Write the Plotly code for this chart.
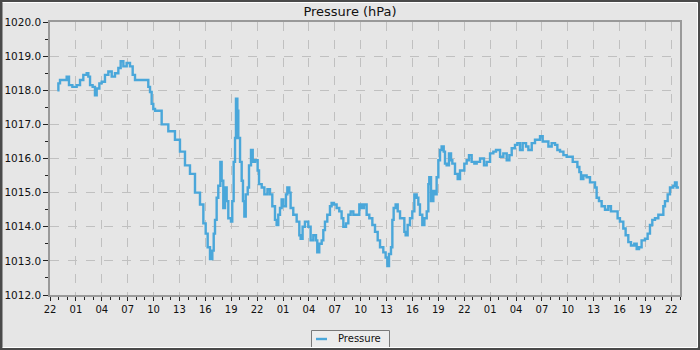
import pandas as pd
import plotly.graph_objects as go

start = pd.Timestamp("2024-03-01 22:00")
span_hours = 73

hours = [0.85, 0.97, 1.16, 1.55, 1.93, 2.2, 2.59, 3.09, 3.48, 3.86, 4.25, 4.44, 4.64, 4.94, 5.21, 5.41, 5.72, 5.99,
         6.37, 6.76, 7.15, 7.53, 7.92, 8.19, 8.5, 8.88, 9.27, 9.58, 9.85, 10.43, 11.01, 11.39, 11.59, 11.78, 11.97,
         12.17, 12.94, 13.71, 14.48, 15.06, 15.64, 16.22, 16.8, 17.38, 17.77, 18.04, 18.27, 18.54, 18.81, 18.97,
         19.12, 19.31, 19.5, 19.74, 19.89, 20.08, 20.28, 20.47, 20.66, 20.97, 21.12, 21.28, 21.44, 21.55, 21.71,
         21.82, 22.02, 22.21, 22.36, 22.52, 22.68, 22.91, 23.06, 23.29, 23.49, 23.76, 24.06, 24.22, 24.53, 24.84,
         25.2, 25.49, 25.76, 26.07, 26.26, 26.45, 26.65, 26.84, 27.03, 27.34, 27.5, 27.73, 27.88, 28.19, 28.58,
         28.89, 29.04, 29.27, 29.54, 29.93, 30.2, 30.51, 30.82, 30.97, 31.2, 31.48, 31.67, 31.86, 32.13, 32.44,
         32.63, 32.9, 33.21, 33.52, 33.79, 33.99, 34.3, 34.57, 34.84, 35.15, 35.45, 35.84, 36.11, 36.38, 36.69,
         37.0, 37.35, 37.66, 37.97, 38.24, 38.62, 38.89, 39.09, 39.28, 39.51, 39.67, 39.82, 40.05, 40.29, 40.56,
         40.83, 41.06, 41.21, 41.44, 41.71, 41.98, 42.22, 42.49, 42.68, 42.87, 43.14, 43.38, 43.65, 43.84, 43.95,
         44.15, 44.42, 44.61, 44.8, 45.0, 45.19, 45.38, 45.62, 45.77, 45.96, 46.23, 46.47, 46.62, 46.93, 47.24,
         47.51, 47.78, 48.01, 48.28, 48.55, 48.86, 49.17, 49.44, 49.83, 50.29, 50.6, 50.99, 51.37, 51.68, 52.15,
         52.53, 52.92, 53.23, 53.5, 53.88, 54.15, 54.46, 54.77, 55.16, 55.43, 55.82, 56.2, 56.59, 56.78, 57.09,
         57.48, 57.75, 58.13, 58.52, 58.79, 59.1, 59.49, 59.87, 60.26, 60.57, 60.84, 61.11, 61.34, 61.53, 61.8,
         62.18, 62.57, 62.95, 63.15, 63.34, 63.61, 63.92, 64.31, 64.69, 65.0, 65.46, 65.77, 66.04, 66.43, 66.7,
         67.01, 67.32, 67.7, 67.98, 68.25, 68.55, 68.94, 69.25, 69.52, 69.79, 70.1, 70.49, 70.8, 71.07, 71.26,
         71.57, 71.84, 72.22, 72.42, 72.61, 72.88]

pressure = [1018.0, 1018.2, 1018.3, 1018.3, 1018.4, 1018.15, 1018.1, 1018.15, 1018.3, 1018.45, 1018.5, 1018.4,
            1018.15, 1018.1, 1017.85, 1018.05, 1018.2, 1018.25, 1018.45, 1018.55, 1018.4, 1018.5, 1018.65, 1018.85,
            1018.7, 1018.8, 1018.7, 1018.45, 1018.3, 1018.3, 1018.3, 1018.1, 1017.95, 1017.6, 1017.45,
            1017.4, 1017.0, 1016.8, 1016.55, 1016.2, 1015.8, 1015.55, 1015.0, 1014.65, 1014.1, 1013.8, 1013.4,
            1013.05, 1013.3, 1013.8, 1014.2, 1014.85, 1015.2, 1015.9, 1015.35, 1014.55, 1015.15, 1014.75, 1014.25,
            1014.15, 1014.75, 1015.9, 1016.6, 1017.75, 1017.4, 1016.6, 1015.9, 1015.35, 1014.75, 1014.3, 1014.95,
            1015.15, 1015.8, 1016.25, 1015.9, 1015.95, 1015.65, 1015.25, 1015.15, 1014.95,
            1015.1, 1014.95, 1014.6, 1014.2, 1014.05, 1014.35, 1014.55, 1014.8, 1014.6, 1014.95, 1015.15, 1015.0,
            1014.55, 1014.35, 1014.15, 1013.75, 1013.65, 1014.0, 1014.15, 1014.0, 1013.6, 1013.75, 1013.6, 1013.25,
            1013.5, 1013.6, 1013.9, 1014.15, 1014.35, 1014.6, 1014.7, 1014.65, 1014.55, 1014.45, 1014.25, 1014.0,
            1014.1, 1014.35, 1014.45, 1014.35, 1014.35, 1014.65, 1014.55, 1014.65, 1014.35,
            1014.25, 1014.05, 1013.85, 1013.6, 1013.4, 1013.25, 1013.1, 1012.85, 1013.2, 1013.4, 1014.2, 1014.55,
            1014.65, 1014.45, 1014.25, 1014.25, 1013.85, 1013.75, 1014.05, 1014.25, 1014.45, 1014.95, 1014.85,
            1014.65, 1014.35, 1014.05, 1014.25, 1014.45, 1015.25, 1015.45, 1014.75, 1015.05, 1014.95, 1015.45,
            1015.95, 1016.25, 1016.35, 1016.2, 1015.85, 1015.8, 1016.15, 1015.95, 1015.85, 1015.55, 1015.4,
            1015.65, 1015.65, 1015.85, 1015.95, 1016.1, 1015.9, 1015.85, 1015.9, 1016.0, 1015.8, 1015.9, 1016.15,
            1016.2, 1016.25, 1016.05, 1016.15, 1015.95, 1016.1, 1016.3, 1016.4, 1016.45, 1016.25, 1016.45, 1016.35,
            1016.25, 1016.45, 1016.55, 1016.55, 1016.65, 1016.5, 1016.5, 1016.35, 1016.45, 1016.4, 1016.25, 1016.2,
            1016.1, 1016.05, 1016.05, 1015.9, 1015.9, 1015.75, 1015.6, 1015.4, 1015.5, 1015.45, 1015.3, 1015.3,
            1015.15, 1014.85, 1014.75, 1014.6, 1014.5, 1014.6, 1014.45, 1014.45, 1014.25, 1014.15, 1013.95, 1013.75,
            1013.55, 1013.45, 1013.5, 1013.35, 1013.4, 1013.6, 1013.65, 1013.8, 1014.05, 1014.2, 1014.25, 1014.35,
            1014.35, 1014.6, 1014.75, 1014.95, 1015.15, 1015.2, 1015.3, 1015.15, 1015.15]

y_range = [1012.0, 1020.0]
title_text = "Pressure (hPa)"
series_name = "Pressure"

times = [start + pd.Timedelta(hours=h) for h in hours]

BG = "#e6e6e6"
GRID = "#c0c0c0"
AXIS = "#999999"
LINE = "#4aa7da"
FONT = "DejaVu Sans"

W, H = 700, 350
ML, MR, MT, MB = 50, 20, 22, 55
PW, PH = W - ML - MR, H - MT - MB


def px(x):
    return (x - ML) / PW


def py(y):
    return (H - MB - y) / PH


fig = go.Figure()
fig.add_trace(go.Scatter(x=times, y=pressure, mode="lines", name=series_name,
                         line=dict(color=LINE, width=2.4, shape="hv"), showlegend=False))

fig.update_layout(
    width=W, height=H,
    margin=dict(l=ML, r=MR, t=MT, b=MB, pad=0, autoexpand=False),
    paper_bgcolor=BG, plot_bgcolor=BG,
    font=dict(family=FONT, size=10, color="#111111"),
    title=dict(text=title_text, x=0.5, xref="container", xanchor="center",
               y=1 - 11 / H, yref="container", yanchor="middle",
               font=dict(family=FONT, size=13, color="#111111")),
    showlegend=False,
)

fig.update_xaxes(
    type="date", automargin=False,
    range=[start, start + pd.Timedelta(hours=span_hours)],
    tick0=start, dtick=3 * 3600 * 1000, tickformat="%H",
    ticks="outside", ticklen=4, tickcolor="#222222", tickwidth=1,
    minor=dict(dtick=3600 * 1000, tick0=start, ticks="outside", ticklen=3, tickcolor="#222222", showgrid=False),
    showgrid=True, gridcolor=GRID, griddash="dash", gridwidth=1,
    showline=True, linecolor=AXIS, linewidth=1.5, mirror=True,
    zeroline=False, tickfont=dict(family=FONT, size=10, color="#111111"),
)
fig.update_yaxes(
    automargin=False,
    range=y_range, dtick=1, tick0=1012, tickformat=".1f",
    ticks="outside", ticklen=5, tickcolor="#222222", tickwidth=1,
    minor=dict(dtick=0.5, ticks="outside", ticklen=3, tickcolor="#222222", showgrid=False),
    showgrid=True, gridcolor=GRID, griddash="dash", gridwidth=1,
    showline=True, linecolor=AXIS, linewidth=1.5, mirror=True,
    zeroline=False, tickfont=dict(family=FONT, size=10.5, color="#111111"),
)

# legend box (drawn by hand to match the compact original legend)
fig.add_shape(type="rect", xref="paper", yref="paper",
              x0=px(311.5), x1=px(389.5), y0=py(347.5), y1=py(330.5),
              line=dict(color="#7a7a7a", width=1), fillcolor="#ececec", layer="above")
fig.add_shape(type="line", xref="paper", yref="paper",
              x0=px(316), x1=px(327), y0=py(339), y1=py(339),
              line=dict(color=LINE, width=2.4), layer="above")
fig.add_annotation(text=series_name, xref="paper", yref="paper",
                   x=px(336), y=py(338.5), xanchor="left", yanchor="middle", showarrow=False,
                   font=dict(family=FONT, size=10, color="#111111"))

# outer frame of the image
fig.add_shape(type="rect", xref="paper", yref="paper",
              x0=px(0), x1=px(W), y0=py(H), y1=py(0),
              line=dict(color="#4a4a4a", width=5), fillcolor="rgba(0,0,0,0)", layer="above")
fig.add_shape(type="line", xref="paper", yref="paper", x0=px(2.5), x1=px(697.5), y0=py(2.5), y1=py(2.5),
              line=dict(color="#ffffff", width=1), layer="above")
fig.add_shape(type="line", xref="paper", yref="paper", x0=px(697.5), x1=px(697.5), y0=py(2.5), y1=py(347.5),
              line=dict(color="#ffffff", width=1), layer="above")
fig.add_shape(type="line", xref="paper", yref="paper", x0=px(2.5), x1=px(697.5), y0=py(347.5), y1=py(347.5),
              line=dict(color="#ffffff", width=1), layer="above")

fig.write_html("out.html")
